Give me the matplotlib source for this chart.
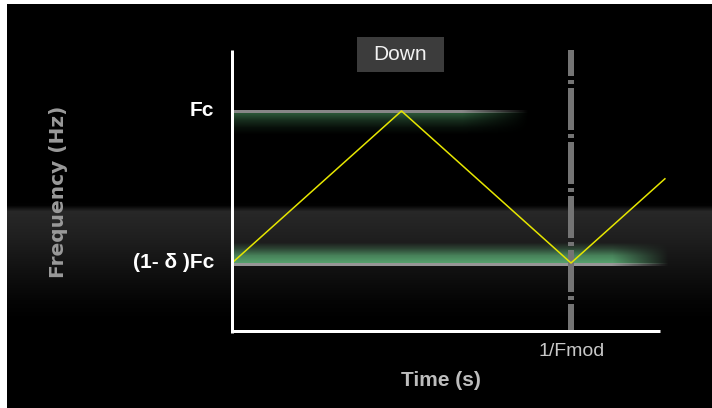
import numpy as np
import matplotlib
matplotlib.use('Agg')
import matplotlib.pyplot as plt
from matplotlib.patches import Rectangle

plt.rcParams['lines.scale_dashes'] = False

# ---------------- data ----------------
time_pts = [0.0, 0.5, 1.0, 1.277]      # in units of 1/Fmod
freq_pts = [0.0, 1.0, 0.0, 0.554]      # 0 -> (1-δ)Fc, 1 -> Fc
level_values = [1.0, 0.0]
level_labels = ['Fc', '(1- δ )Fc']
mod_period = 1.0
mod_label = '1/Fmod'
title_label = 'Down'
x_label = 'Time (s)'
y_label = 'Frequency (Hz)'

# ---------------- layout ----------------
W, H = 712, 408
fig = plt.figure(figsize=(W / 100, H / 100), dpi=100, facecolor='black')
ax = fig.add_axes([0, 0, 1, 1])
ax.set_facecolor('black')
ax.axis('off')

X0, X1 = 232, 571      # pixel columns of t=0 and t=1
Y0, Y1 = 263, 111      # pixel rows of f=0 and f=1
def tx(px):
    return (px - X0) / (X1 - X0)
def fy(py):
    return (Y0 - py) / (Y0 - Y1)
ax.set_xlim(tx(0), tx(W))
ax.set_ylim(fy(H), fy(0))

# background grey band
rows = np.arange(200, 321)
g = np.interp(rows, [200, 205, 211, 240, 270, 300, 320], [0, 2, 40, 30, 17, 5, 0]) / 255.0
band = np.repeat(g[:, None, None], 3, axis=2).repeat(2, axis=1)
ax.imshow(band, extent=[tx(0), tx(W), fy(321), fy(200)], aspect='auto',
          interpolation='bilinear', origin='upper', zorder=0)

def glow(px0, px1, fade0, fade1, py0, py1, vprof_x, vprof_v, rgb, z):
    cols = np.arange(px0, px1)
    rr = np.arange(py0, py1)
    ax_ = np.interp(cols, [px0, fade0, fade1], [1, 1, 0])
    av = np.interp(rr, vprof_x, vprof_v)
    img = np.zeros((len(rr), len(cols), 4))
    img[..., :3] = np.array(rgb) / 255.0
    img[..., 3] = av[:, None] * ax_[None, :]
    ax.imshow(img, extent=[tx(px0), tx(px1), fy(py1), fy(py0)], aspect='auto',
              interpolation='bilinear', origin='upper', zorder=z)

# upper glow (below Fc)
glow(232, 540, 462, 528, 112, 134, [112, 114, 120, 127, 134], [1, 0.9, 0.5, 0.18, 0], (45, 90, 58), 1)
glow(232, 540, 462, 528, 109, 113, [109, 110, 112, 113], [0, 1, 1, 0], (135, 135, 135), 2)
# lower glow (above (1-δ)Fc)
glow(232, 672, 612, 668, 242, 264, [242, 248, 255, 263, 264], [0, 0.3, 0.75, 1, 1], (88, 165, 112), 1)
glow(232, 672, 612, 668, 262, 266, [262, 263, 265, 266], [0, 1, 1, 0], (150, 150, 150), 2)

# dash-dot modulation period line
k = 0.72
ax.plot([mod_period, mod_period], [fy(50), fy(331)], color='#747474', lw=6 * k,
        linestyle=(16 * k, (42 * k, 4 * k, 4 * k, 4 * k)), dash_capstyle='butt', zorder=3)

# axes lines
ax.plot([0, 0], [fy(332.5), fy(50)], color='white', lw=3 * k, solid_capstyle='butt', zorder=5)
ax.plot([tx(230.5), tx(660)], [fy(331), fy(331)], color='white', lw=3 * k, solid_capstyle='butt', zorder=5)

# triangular frequency sweep
ax.plot(time_pts, freq_pts, color='#e6e600', lw=1.1, zorder=4)

# labels
bold = dict(family=['Liberation Sans', 'DejaVu Sans'], weight='bold')
for v, lab in zip(level_values, level_labels):
    ax.text(tx(214), v, lab, ha='right', va='center', color='white', fontsize=15, **bold)

ax.text(mod_period + tx(572) - tx(571), fy(352), mod_label, ha='center', va='center',
        color='#c8c8c8', fontsize=14, family=['Liberation Sans', 'DejaVu Sans'])
ax.text(tx(441), fy(380), x_label, ha='center', va='center', color='#bdbdbd', fontsize=15, **bold)
ax.text(tx(59), fy(192), y_label, ha='center', va='center', rotation=90, color='#9a9a9a',
        fontsize=14.5, family='DejaVu Sans', weight='bold')

ax.add_patch(Rectangle((tx(357), fy(72)), tx(444) - tx(357), fy(37) - fy(72),
                       facecolor='#3c3c3c', edgecolor='none', zorder=5))
ax.text(tx(400.5), fy(54.5), title_label, ha='center', va='center', color='#f2f2f2',
        fontsize=15, family=['Liberation Sans', 'DejaVu Sans'], zorder=6)

# white frame strips of the screenshot
fig.add_artist(Rectangle((0, 0), 7 / W, 1, transform=fig.transFigure, facecolor='white', edgecolor='none'))
fig.add_artist(Rectangle((0, 1 - 4 / H), 1, 4 / H, transform=fig.transFigure, facecolor='white', edgecolor='none'))

fig.savefig('out.png', dpi=100, facecolor='black')
